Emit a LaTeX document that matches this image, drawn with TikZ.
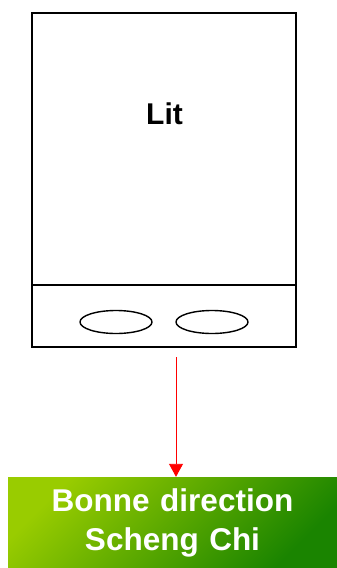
\documentclass[tikz,border=0pt]{standalone}
\usepackage{fontspec}
\setmainfont{Liberation Sans}
\usetikzlibrary{arrows.meta,shapes.geometric}
\definecolor{limegreen}{HTML}{99CC00}
\definecolor{midgreen}{HTML}{70B400}
\definecolor{deepgreen}{HTML}{1A8400}

\begin{document}
\begin{tikzpicture}[x=1pt, y=-1pt,
  bedbox/.style={rectangle, draw, line width=1.4pt, minimum width=264pt,
    minimum height=334pt, inner sep=0pt},
  pillow/.style={ellipse, draw, line width=1.4pt, minimum width=72pt,
    minimum height=23pt, inner sep=0pt},
  bedlabel/.style={font=\fontsize{30}{36}\selectfont\bfseries},
  dirbox/.style={rectangle, top color=limegreen, middle color=midgreen,
    bottom color=deepgreen, shading angle=45, minimum width=329pt,
    minimum height=91pt, inner sep=4pt, text width=321pt, align=center,
    text=white, font=\fontsize{31.5}{39}\selectfont\bfseries},
  arr/.style={-{Triangle[width=14pt,length=13pt]}, draw=red, line width=0.9pt},
]
\useasboundingbox (0,0) rectangle (337,568);

% Bed
\node[bedbox] (bed) at (164,180) {};
\node[bedlabel] (lit) at (164.5,114) {Lit};

% Foot of the bed
\coordinate (footL) at (32,285);
\coordinate (footR) at (296,285);
\draw[line width=1.4pt] (footL) -- (footR);

\node[pillow] (pilA) at (116,322) {};
\node[pillow] (pilB) at (212,322) {};

% Direction
\node[dirbox] (dir) at (172.5,522.5) {Bonne direction\\Scheng Chi};

\coordinate (arrtop) at (176,357);
\draw[arr] (arrtop) -- (arrtop |- dir.north);

\end{tikzpicture}
\end{document}
